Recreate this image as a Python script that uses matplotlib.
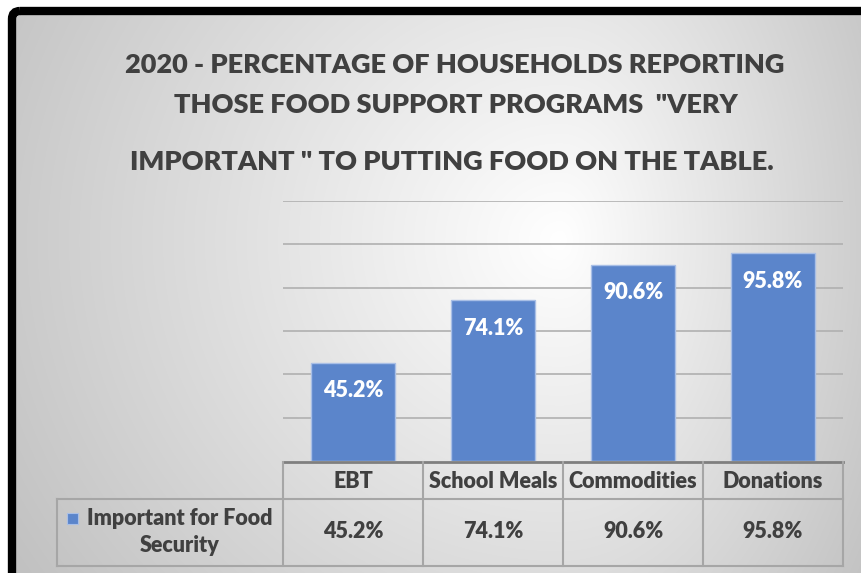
import matplotlib
matplotlib.use("Agg")
import matplotlib.pyplot as plt
import numpy as np
from matplotlib.patches import FancyBboxPatch, Rectangle

plt.rcParams['font.family'] = ['Lato', 'DejaVu Sans']

# data
categories = ["EBT", "School Meals", "Commodities", "Donations"]
values = [45.2, 74.1, 90.6, 95.8]
series_name = "Important for Food\nSecurity"
title_lines = ["2020 - PERCENTAGE OF HOUSEHOLDS REPORTING",
               "THOSE FOOD SUPPORT PROGRAMS  \"VERY",
               "IMPORTANT \" TO PUTTING FOOD ON THE TABLE."]

W, H = 862, 573
fig = plt.figure(figsize=(W / 100, H / 100), dpi=100)
fig.patch.set_facecolor("white")

def fx(x):
    return x / W

def fy(y):
    return 1 - y / H

FW = "heavy"

# background gradient inside the black frame
bg = fig.add_axes([0, 0, 1, 1], zorder=-5)
bg.set_xlim(0, W)
bg.set_ylim(H, 0)
bg.axis("off")
yy, xx = np.mgrid[0:H, 0:W]
dx = xx - 560.0
dx = np.where(dx < 0, dx / 560.0, dx / 330.0)
dy = (yy - 240.0) / 520.0
r = np.sqrt(dx ** 2 + dy ** 2)
v = 1 - 0.21 * np.clip(r, 0, 1.3)
img = np.dstack([v, v, v])
im = bg.imshow(img, extent=[0, W, H, 0], interpolation="bilinear")
frame = FancyBboxPatch((12, 11), 950, 700, boxstyle="round,pad=0,rounding_size=8",
                       facecolor="none", edgecolor="black", linewidth=6)
bg.add_patch(frame)
im.set_clip_path(frame)

# title
tcol = "#404040"
fig.text(fx(455), fy(65), title_lines[0], ha="center", va="center",
         fontsize=19.5, fontweight=FW, color=tcol)
fig.text(fx(456), fy(105), title_lines[1], ha="center", va="center",
         fontsize=19.5, fontweight=FW, color=tcol)
fig.text(fx(452), fy(162), title_lines[2], ha="center", va="center",
         fontsize=19.5, fontweight=FW, color=tcol)

# main bar axes
x0, x1, ytop, ybot = 283, 843, 201, 461
ax = fig.add_axes([fx(x0), fy(ybot), fx(x1 - x0), (ybot - ytop) / H])
ax.patch.set_alpha(0)
x = np.arange(len(categories))
bars = ax.bar(x, values, width=0.6, color="#5b85cb", edgecolor="#a9bfe6",
              linewidth=1, zorder=3)
ax.set_xlim(-0.5, len(categories) - 0.5)
ax.set_ylim(0, 120)
ax.set_yticks([20, 40, 60, 80, 100, 120])
ax.yaxis.grid(True, color="#b0b0b0", linewidth=1.2)
ax.set_axisbelow(True)
for s in ax.spines.values():
    s.set_visible(False)
ax.tick_params(left=False, bottom=False, labelleft=False, labelbottom=False)
for xi, v_ in zip(x, values):
    ax.annotate(f"{v_}%", (xi, v_), xytext=(0, -20), textcoords="offset points",
                ha="center", va="center", color="white", fontsize=15.5,
                fontweight=FW, zorder=4)

# data table
tab = fig.add_axes([fx(57), fy(566), fx(843 - 57), (566 - 461) / H])
tab.patch.set_alpha(0)
tab.axis("off")
left = -0.5 - (283 - 57) / 140
tab.set_xlim(left, len(categories) - 0.5)
tab.set_ylim(566, 461)
lc = "#a6a6a6"
row_mid = 499
# horizontal lines
tab.plot([-0.5, len(categories) - 0.5], [462, 462], color="#7f7f7f", lw=2, clip_on=False)
tab.plot([left, len(categories) - 0.5], [row_mid, row_mid], color=lc, lw=1.5, clip_on=False)
tab.plot([left, len(categories) - 0.5], [565.5, 565.5], color=lc, lw=1.5, clip_on=False)
# vertical lines
tab.plot([left, left], [row_mid, 565.5], color=lc, lw=1.5, clip_on=False)
for b in np.arange(len(categories) + 1) - 0.5:
    tab.plot([b, b], [462, 565.5], color=lc, lw=1.5, clip_on=False)
for xi, cat, v_ in zip(x, categories, values):
    tab.text(xi, 481, cat, ha="center", va="center", fontsize=15.5,
             fontweight=FW, color=tcol)
    tab.text(xi, 532, f"{v_}%", ha="center", va="center", fontsize=15.5,
             fontweight=FW, color=tcol)
# legend key + series name
kx = left + (67 - 57) / 140
tab.add_patch(Rectangle((kx, 513), 11 / 140, 11, facecolor="#5b85cb",
                        edgecolor="#a9bfe6", lw=0.8))
tab.text(left + (180 - 57) / 140, 532, series_name, ha="center", va="center",
         fontsize=15.5, fontweight=FW, color=tcol, linespacing=1.4)

fig.savefig("out.png", dpi=100)
